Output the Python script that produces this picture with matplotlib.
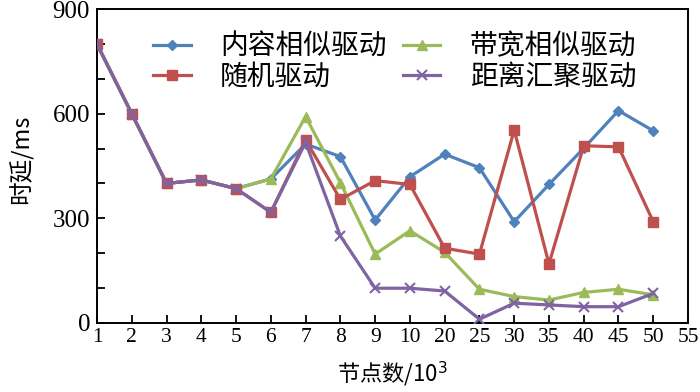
import matplotlib
matplotlib.use("Agg")
import matplotlib.pyplot as plt
from matplotlib.ticker import MultipleLocator

plt.rcParams['font.family'] = ['Noto Sans CJK SC', 'DejaVu Sans']

x_labels = ["1", "2", "3", "4", "5", "6", "7", "8", "9", "10", "20", "25",
            "30", "35", "40", "45", "50", "55"]
content = [800, 600, 400, 410, 385, 413, 513, 477, 295, 419, 484, 445, 290, 397, 501, 609, 551]
random_ = [800, 600, 400, 410, 385, 317, 525, 354, 408, 397, 214, 197, 553, 169, 508, 505, 290]
bandwidth = [800, 600, 400, 410, 385, 413, 592, 402, 197, 264, 202, 96, 75, 65, 87, 96, 80]
distance = [800, 600, 400, 410, 385, 317, 518, 249, 99, 99, 91, 10, 56, 51, 46, 46, 84]

names = ["内容相似驱动", "随机驱动", "带宽相似驱动", "距离汇聚驱动"]
colors = ["#4F81BD", "#C0504D", "#9BBB59", "#8064A2"]

fig = plt.figure(figsize=(7.0, 3.92), dpi=100)
ax = fig.add_axes([0.1386, 0.1768, 0.8443, 0.7995])

xs = list(range(len(content)))
l1, = ax.plot(xs, content, color=colors[0], lw=2.3, marker='D', ms=5.5, zorder=3)
l2, = ax.plot(xs, random_, color=colors[1], lw=2.3, marker='s', ms=7.5, zorder=4)
l3, = ax.plot(xs, bandwidth, color=colors[2], lw=2.3, marker='^', ms=7.5, zorder=3)
l4, = ax.plot(xs, distance, color=colors[3], lw=2.3, marker='x', ms=6.5, mew=1.5, zorder=5)

ax.set_xlim(0, len(x_labels) - 1)
ax.set_ylim(0, 900)
ax.set_xticks(range(len(x_labels)))
ax.set_xticklabels(x_labels, family=['Liberation Serif'], fontsize=15.5)
ax.set_yticks([0, 300, 600, 900])
ax.yaxis.set_minor_locator(MultipleLocator(100))
for lab in ax.get_yticklabels():
    lab.set_family(['Liberation Serif'])
    lab.set_fontsize(18)
ax.tick_params(axis='both', which='both', direction='in', length=5.5, width=1.3, color='black')
ax.tick_params(axis='x', pad=4)
ax.tick_params(axis='y', pad=5)
for s in ax.spines.values():
    s.set_linewidth(1.4)
    s.set_color('black')

ax.set_xlabel("节点数/10$^3$", fontsize=16,
              family=['Noto Sans CJK SC', 'Liberation Serif'])
ax.set_ylabel("时延/ms", fontsize=17,
              family=['Noto Sans CJK SC', 'Liberation Serif'])
ax.xaxis.set_label_coords(0.5, -0.118)
ax.yaxis.set_label_coords(-0.108, 0.52)

leg = ax.legend([l1, l2, l3, l4], names, ncol=2, frameon=False, fontsize=20,
                loc='upper left', bbox_to_anchor=(0.095, 0.93), borderpad=0,
                handlelength=1.35, handletextpad=1.05, columnspacing=0.6,
                labelspacing=0.0, borderaxespad=0)

fig.savefig("out.png", dpi=100)
